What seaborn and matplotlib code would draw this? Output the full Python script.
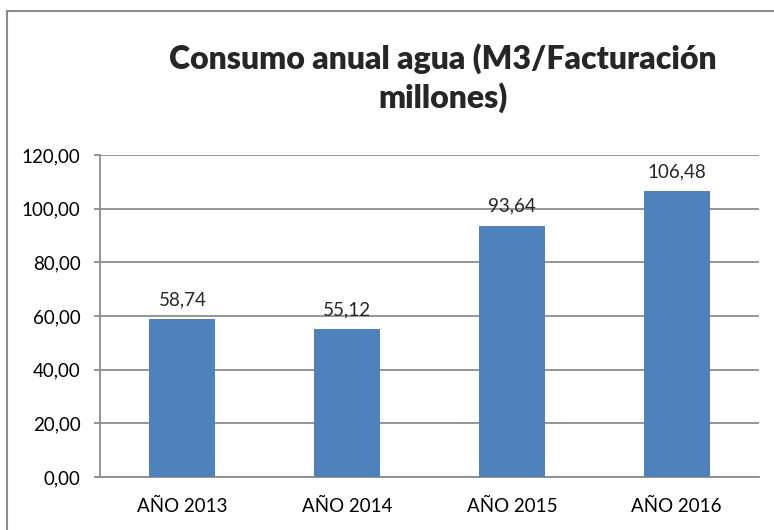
import matplotlib
matplotlib.use("Agg")
import matplotlib.pyplot as plt
from matplotlib.patches import Rectangle
from matplotlib.ticker import FixedLocator, FuncFormatter
import pandas as pd
import seaborn as sns

years = ["AÑO 2013", "AÑO 2014", "AÑO 2015", "AÑO 2016"]
consumo = [58.74, 55.12, 93.64, 106.48]
title_text = "Consumo anual agua (M3/Facturación\nmillones)"

df = pd.DataFrame({"year": years, "consumo": consumo})

sns.set_style("white")
plt.rcParams["font.family"] = ["Lato", "DejaVu Sans"]

fig = plt.figure(figsize=(7.74, 5.30), dpi=100)
ax = fig.add_axes([100 / 774, 53 / 530, 659 / 774, 322 / 530])

sns.barplot(data=df, x="year", y="consumo", color="#4F81BD", saturation=1,
            width=0.4, linewidth=0, edgecolor="none", ax=ax, zorder=3)

ax.set_ylim(0, 120)
ax.set_xlim(-0.5, 3.5)
ax.set_yticks(range(0, 121, 20))
ax.yaxis.set_major_formatter(FuncFormatter(lambda v, p: f"{v:.2f}".replace(".", ",")))
ax.grid(axis="y", color="#8c8c8c", linewidth=1.3, zorder=0)
ax.set_xlabel("")
ax.set_ylabel("")

for s in ["top", "right"]:
    ax.spines[s].set_visible(False)
for s in ["left", "bottom"]:
    ax.spines[s].set_color("#8c8c8c")
    ax.spines[s].set_linewidth(1.3)

ax.xaxis.set_minor_locator(FixedLocator([-0.5, 0.5, 1.5, 2.5, 3.5]))
ax.tick_params(axis="x", which="major", length=0, pad=15, labelsize=13.5, labelcolor="black")
ax.tick_params(axis="x", which="minor", length=5, width=1.3, color="#8c8c8c", direction="out")
ax.tick_params(axis="y", length=4, width=1.3, color="#8c8c8c", pad=10, labelsize=13.5,
               labelcolor="black", left=True)

for i, v in enumerate(consumo):
    ax.annotate(f"{v:.2f}".replace(".", ","), (i, v), xytext=(0, 8),
                textcoords="offset points", ha="center", va="bottom", fontsize=13.5)

fig.text(443 / 774, 1 - 78 / 530, title_text, ha="center", va="center",
         fontsize=23, fontweight="heavy", linespacing=1.35)

fig.patches.append(Rectangle((7 / 774, -0.05), 1.1, 1 - 11 / 530 + 0.05,
                             transform=fig.transFigure, fill=False,
                             edgecolor="#8c8c8c", linewidth=1.5))

fig.savefig("out.png", dpi=100)
